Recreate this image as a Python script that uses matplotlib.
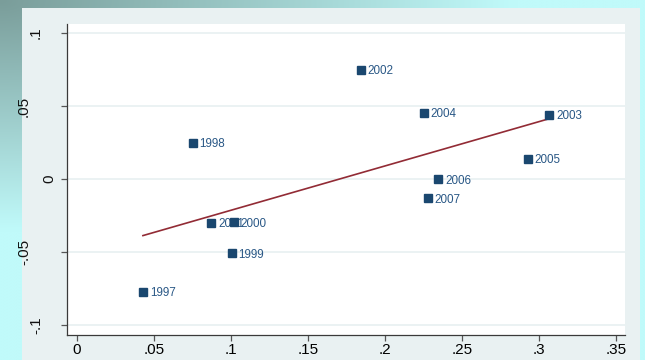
import numpy as np
import matplotlib
matplotlib.use("Agg")
import matplotlib.pyplot as plt
import matplotlib.transforms as mtrans
from matplotlib.colors import to_rgb
from matplotlib.patches import Rectangle

plt.rcParams["font.family"] = ["Liberation Sans", "DejaVu Sans"]

# data
years = ["1997", "1998", "1999", "2000", "2001", "2002", "2003", "2004", "2005", "2006", "2007"]
xvals = [0.0428, 0.0750, 0.1004, 0.1017, 0.0870, 0.1843, 0.3067, 0.2252, 0.2926, 0.2346, 0.2277]
yvals = [-0.0775, 0.0247, -0.0509, -0.0297, -0.0301, 0.0748, 0.0442, 0.0451, 0.0140, -0.0002, -0.0132]
xticks = [0, 0.05, 0.1, 0.15, 0.2, 0.25, 0.3, 0.35]
xticklabels = ["0", ".05", ".1", ".15", ".2", ".25", ".3", ".35"]
yticks = [0.1, 0.05, 0, -0.05, -0.1]
yticklabels = [".1", ".05", "0", "-.05", "-.1"]

W, H = 645, 360
NAVY = "#1a476f"; MAROON = "#922b35"; PANEL = "#e9f1f2"

fig = plt.figure(figsize=(W / 100, H / 100), dpi=100)

# gradient backdrop (dark teal top-left -> light cyan)
bg = fig.add_axes([0, 0, 1, 1], zorder=0); bg.axis("off")
gx, gy = np.meshgrid(np.linspace(0, 1, 200), np.linspace(0, 1, 120))
t = np.clip(np.sqrt((gx * 1.0) ** 2 + (gy * 1.25) ** 2) / 0.8, 0, 1)[..., None]
c0 = np.array(to_rgb("#7a9d9a")); c1 = np.array(to_rgb("#c0fafa"))
bg.imshow(c0 + (c1 - c0) * t, aspect="auto", extent=[0, 1, 1, 0], interpolation="bilinear")
bg.set_xlim(0, 1); bg.set_ylim(1, 0)
bg.add_patch(Rectangle((22 / W, 8 / H), 618 / W, 1.0, color=PANEL, lw=0))

ax = fig.add_axes([67 / W, 1 - 335 / H, (625 - 67) / W, (335 - 24) / H], zorder=2)
ax.set_facecolor("white")
ax.set_xlim(-0.0065, 0.3558)
ax.set_ylim(-0.1068, 0.1062)

for yt in yticks:
    ax.axhline(yt, color=PANEL, lw=1.3, zorder=0)

# fitted line
b, a = np.polyfit(xvals, yvals, 1)
xl = np.array([min(xvals), max(xvals)])
ax.plot(xl, a + b * xl, color=MAROON, lw=1.2, zorder=2)

ax.plot(xvals, yvals, "s", color=NAVY, ms=5.8, zorder=4, ls="none")
for x, y, s in zip(xvals, yvals, years):
    ax.annotate(s, (x, y), xytext=(5.0, -0.9), textcoords="offset points",
                ha="left", va="center", fontsize=8.4, color="#2a5886", zorder=3)

for s in ["top", "right"]:
    ax.spines[s].set_visible(False)
for s in ["left", "bottom"]:
    ax.spines[s].set_color("#3a3a3a"); ax.spines[s].set_linewidth(0.9)

ax.set_xticks(xticks); ax.set_xticklabels(xticklabels, fontsize=11)
ax.set_yticks(yticks); ax.set_yticklabels([])
ax.tick_params(axis="both", length=4.2, width=0.9, color="#555555")
ax.tick_params(axis="x", pad=1.8)

# rotated y tick labels, placed like the Stata original
lab_x = [36, 24, 49, 24, 36]
tr = mtrans.blended_transform_factory(fig.transFigure, ax.transData)
for yt, s, px in zip(yticks, yticklabels, lab_x):
    fig.text(px / W, yt, s, transform=tr, rotation=90, ha="center", va="center",
             fontsize=11, color="#111111", zorder=3)

fig.savefig("out.png", dpi=100)
